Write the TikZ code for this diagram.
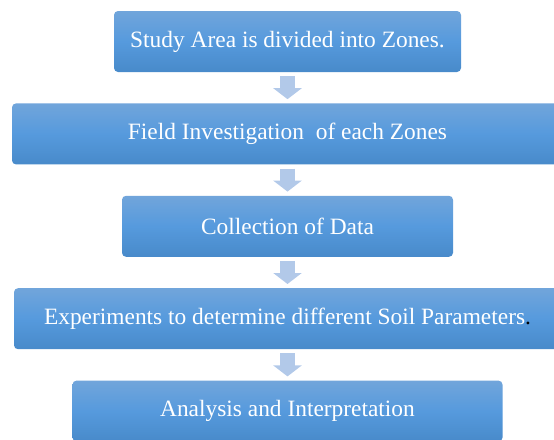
\documentclass[tikz,border=0pt]{standalone}
\usepackage{fontspec}
\setmainfont{Liberation Serif}
\usetikzlibrary{positioning,arrows.meta}
\definecolor{boxtop}{RGB}{113,165,219}
\definecolor{boxmid}{RGB}{86,154,221}
\definecolor{boxbot}{RGB}{72,138,202}
\definecolor{flowblue}{RGB}{178,201,233}
\tikzset{
    stage/.style={rectangle,rounded corners=4pt,top color=boxtop,bottom color=boxbot,middle color=boxmid,
                  minimum height=61pt,inner sep=0pt,text=white,font=\fontsize{23.4}{28}\selectfont},
    flow/.style={line width=15pt,draw=flowblue,-{Triangle[width=28pt,length=11pt]},shorten <=4pt,shorten >=4pt}
}

\begin{document}
\begin{tikzpicture}[x=1pt,y=1pt]

    \useasboundingbox (0,0) rectangle (554,-439);

    \node[stage,minimum width=347pt] (zones)   at (287.5,-41.5)              {Study Area is divided into Zones.};
    \node[stage,minimum width=551pt] (field)   [below=31pt of zones]        {Field Investigation \ of each Zones};
    \node[stage,minimum width=331pt] (data)    [below=31pt of field]        {Collection of Data};
    \node[stage,minimum width=547pt] (exper)   [below=31pt of data]         {Experiments to determine different Soil Parameters{\color{black}.}};
    \node[stage,minimum width=430pt] (analysis)[below=31pt of exper]        {Analysis and Interpretation};

    \draw[flow] (zones) -- (field);
    \draw[flow] (field) -- (data);
    \draw[flow] (data)  -- (exper);
    \draw[flow] (exper) -- (analysis);

\end{tikzpicture}
\end{document}
